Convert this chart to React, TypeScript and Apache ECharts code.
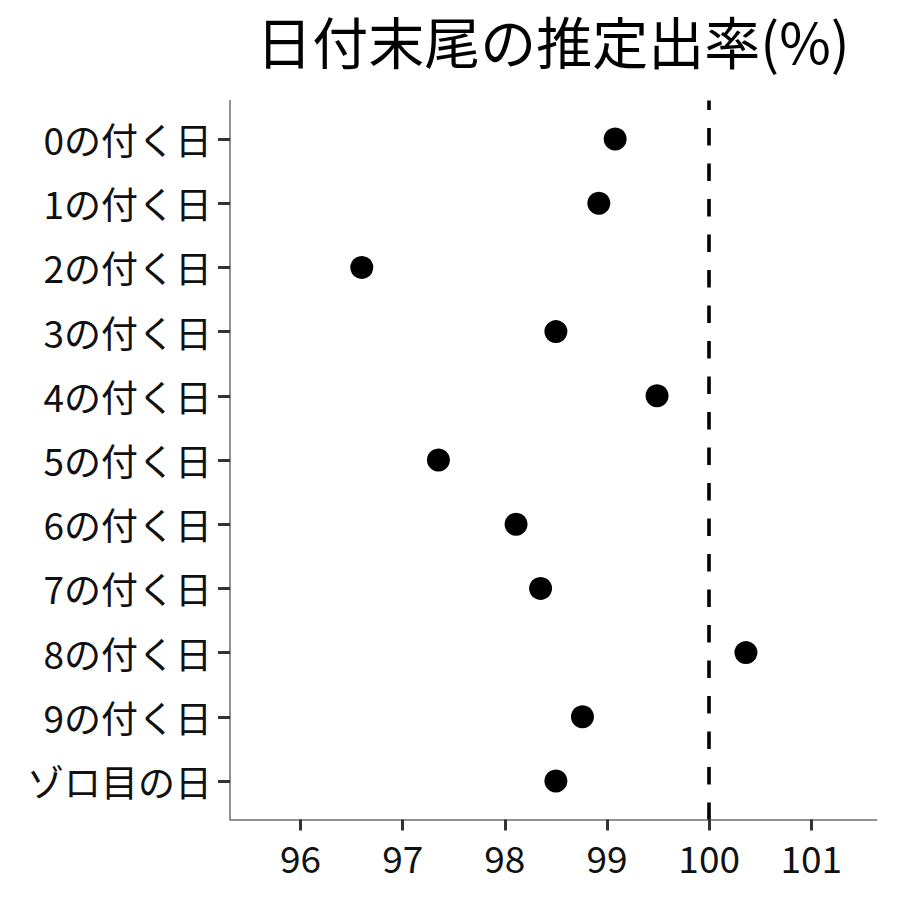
import React, { useEffect, useRef } from "react";
import * as echarts from "echarts";

const titleText = "日付末尾の推定出率(%)";
const categories = [
  "0の付く日",
  "1の付く日",
  "2の付く日",
  "3の付く日",
  "4の付く日",
  "5の付く日",
  "6の付く日",
  "7の付く日",
  "8の付く日",
  "9の付く日",
  "ゾロ目の日",
];
const rates = [99.08, 98.92, 96.6, 98.5, 99.49, 97.35, 98.11, 98.35, 100.36, 98.76, 98.5];
const xTickValues = [96, 97, 98, 99, 100, 101];
const referenceLine = 100;
const xMin = 95.31;
const xMax = 101.64;

const FONT = '"Noto Sans CJK JP", "Noto Sans", sans-serif';

export default function App() {
  const ref = useRef<HTMLDivElement>(null);
  useEffect(() => {
    if (!ref.current) return;
    const chart = echarts.init(ref.current, null, { renderer: "svg" });
    const indices = categories.map((_, i) => i);
    chart.setOption({
      animation: false,
      backgroundColor: "#ffffff",
      textStyle: { fontFamily: FONT },
      title: {
        text: titleText,
        left: 548,
        top: 6,
        textAlign: "center",
        textStyle: { fontFamily: FONT, fontSize: 56, fontWeight: "normal", color: "#000" },
      },
      grid: { left: 230, right: 23.3, top: 100.5, bottom: 80.5, containLabel: false },
      xAxis: {
        type: "value",
        min: xMin,
        max: xMax,
        splitLine: { show: false },
        axisLine: { show: true, onZero: false, lineStyle: { color: "#6e6e6e", width: 1.5 } },
        axisTick: {
          show: true,
          length: 11,
          customValues: xTickValues,
          lineStyle: { color: "#333333", width: 3 },
        },
        axisLabel: {
          customValues: xTickValues,
          fontFamily: FONT,
          fontSize: 37,
          color: "#111",
          margin: 19,
        },
      },
      yAxis: {
        type: "value",
        min: -0.6,
        max: categories.length - 1 + 0.6,
        inverse: true,
        splitLine: { show: false },
        axisLine: { show: true, onZero: false, lineStyle: { color: "#6e6e6e", width: 1.5 } },
        axisTick: {
          show: true,
          length: 12,
          customValues: indices,
          lineStyle: { color: "#333333", width: 3 },
        },
        axisLabel: {
          customValues: indices,
          formatter: (v: number) => categories[Math.round(v)] ?? "",
          fontFamily: FONT,
          fontSize: 37,
          color: "#111",
          margin: 18,
        },
      },
      series: [
        {
          type: "scatter",
          data: rates.map((r, i) => [r, i]),
          symbol: "circle",
          symbolSize: 23,
          itemStyle: { color: "#000", opacity: 1 },
          markLine: {
            silent: true,
            symbol: ["none", "none"],
            label: { show: false },
            lineStyle: { color: "#000", width: 3.6, type: [17.5, 18], dashOffset: 8.3, opacity: 1 },
            data: [{ xAxis: referenceLine }],
          },
        },
      ],
    });
    return () => chart.dispose();
  }, []);
  return (
    <div
      ref={ref}
      style={{ position: "fixed", left: 0, top: 0, width: 900, height: 900, background: "#fff" }}
    />
  );
}
